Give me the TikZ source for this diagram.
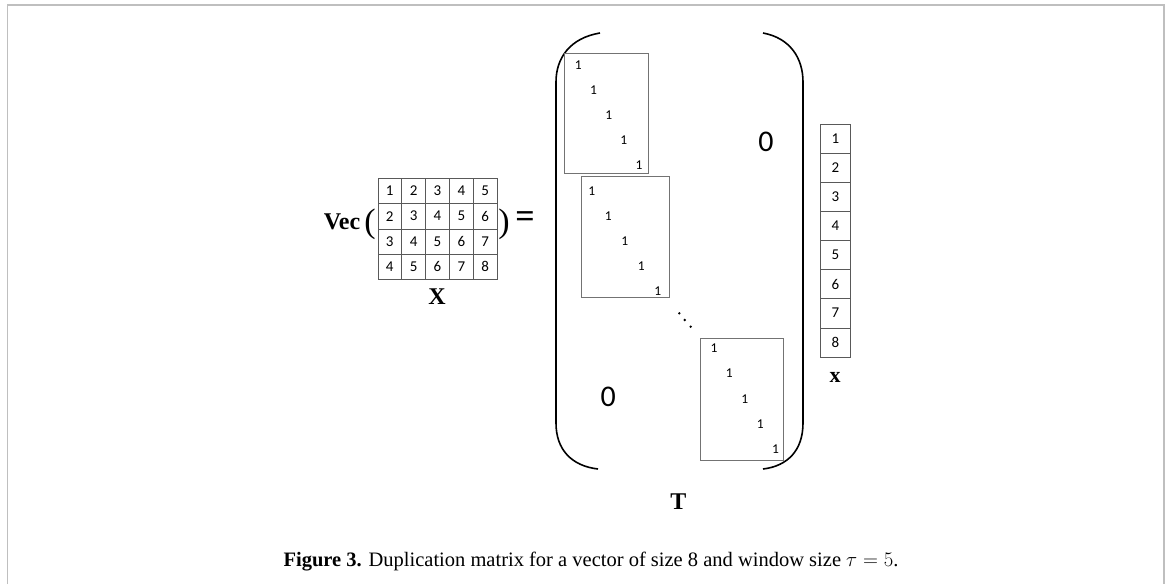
\documentclass[tikz,border=0pt]{standalone}
\usepackage{fontspec}
\setmainfont{Liberation Serif}
\newfontfamily\cellfont{Carlito}
\begin{document}
\begin{tikzpicture}[x=1pt, y=-1pt,
    cell/.style={draw=black!65, minimum width=23.9pt, minimum height=25.25pt, inner sep=0pt,
                 font=\cellfont\fontsize{15}{15}\selectfont},
    vcell/.style={cell, minimum width=29.3pt, minimum height=29.1pt},
    blk/.style={draw=black!55, line width=0.9pt, anchor=north west, inner sep=0pt},
    one/.style={inner sep=0pt, font=\cellfont\fontsize{13.5}{13.5}\selectfont},
    lbl/.style={inner sep=0pt, font=\bfseries\fontsize{24}{24}\selectfont},
    zero/.style={inner sep=0pt, font=\cellfont\fontsize{30}{30}\selectfont}]
  \useasboundingbox (0,0) rectangle (1170,584);
  \draw[black!25, line width=1.5pt] (7.5,584) -- (7.5,5) -- (1164,5) -- (1164,584);

  % left side: Vec( X ) =
  \node[lbl] (vec) at (342,222) {Vec};
  \node[inner sep=0pt, font=\fontsize{34}{34}\selectfont] (lp) at (370,224) {(};
  \foreach \r in {1,...,4}
    \foreach \c in {1,...,5} {
      \pgfmathtruncatemacro\v{\r+\c-1}
      \node[cell] (g\r\c) at ({377.7+23.9*(\c-0.5)},{178.3+25.25*(\r-0.5)}) {\v};
    }
  \node[inner sep=0pt, font=\fontsize{34}{34}\selectfont] (rp) at (504,224) {)};
  \node[inner sep=0pt, font=\bfseries\fontsize{34}{34}\selectfont] (eq) at (525,220) {=};
  \node[lbl] (X) at (437,297) {X};

  % T matrix
  \draw[line width=1.6pt] (600,33) .. controls (570,38) and (556,58) .. (556,82)
    -- (556,423) .. controls (556,450) and (572,466) .. (598,469);
  \draw[line width=1.6pt] (763,33) .. controls (790,38) and (803,58) .. (803,82)
    -- (803,423) .. controls (803,450) and (788,466) .. (763,469);
  \node[blk, minimum width=84pt, minimum height=120pt] (b1) at (564,53.3) {};
  \node[blk, minimum width=88pt, minimum height=121pt] (b2) at (580.7,176) {};
  \node[blk, minimum width=83pt, minimum height=122pt] (b3) at (700.3,338.3) {};
  \foreach \i in {0,...,4} {
    \node[one] (p\i) at ({578.3+15.2*\i},{65+25.1*\i}) {1};
    \node[one] (q\i) at ({591.7+16.5*\i},{190.7+25*\i}) {1};
    \node[one] (s\i) at ({714+15.4*\i},{348.3+25.2*\i}) {1};
  }
  \foreach \d/\x/\y in {1/679.3/313.3, 2/684.7/320, 3/690.7/326.7}
    \fill (\x,\y) circle (1.3pt);
  \node[zero] (z1) at (766,141.7) {0};
  \node[zero] (z2) at (608.3,396.7) {0};
  \node[lbl] (T) at (678.3,501.7) {T};

  % vector x
  \foreach \i in {1,...,8}
    \node[vcell] (v\i) at (835.3,{124+29.1*(\i-0.5)}) {\i};
  \node[lbl, font=\bfseries\fontsize{22}{22}\selectfont] (xv) at (835,377) {x};

  % caption
  \node[inner sep=0pt, font=\fontsize{20.5}{20.5}\selectfont] (cap) at (591,562)
    {\textbf{Figure 3.} Duplication matrix for a vector of size 8 and window size $\tau = 5$.};
\end{tikzpicture}
\end{document}
